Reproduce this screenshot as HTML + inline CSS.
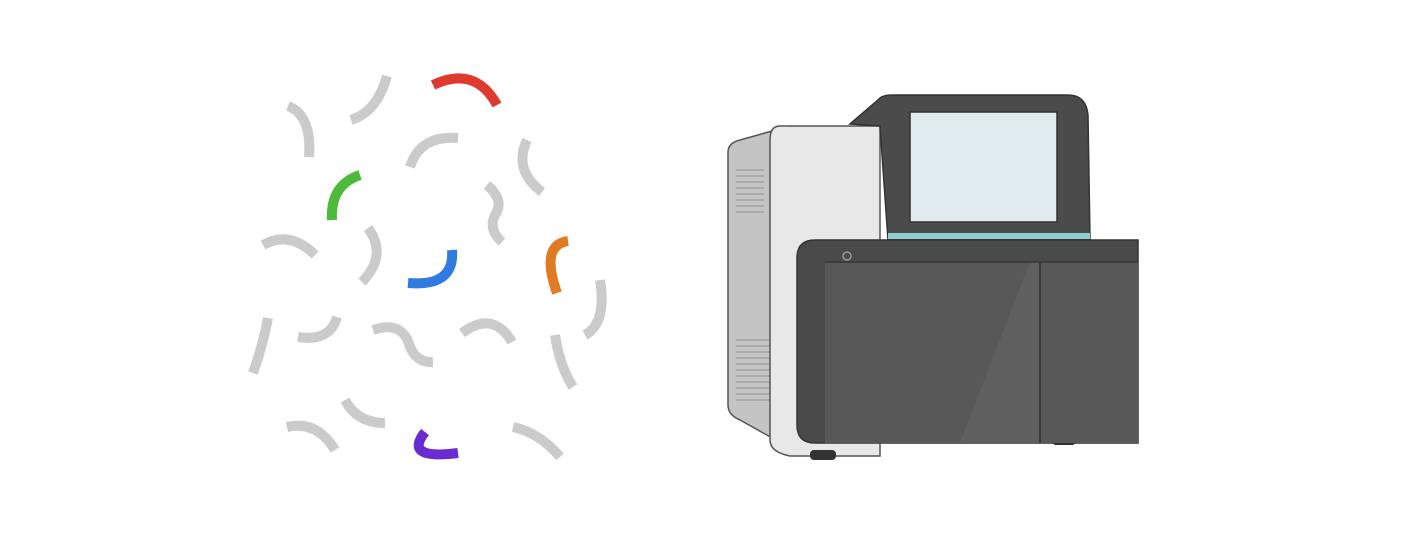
<!DOCTYPE html>
<html><head><meta charset="utf-8"><style>html,body{margin:0;padding:0;background:#fff}svg{display:block}</style></head>
<body>
<svg width="1428" height="543" viewBox="0 0 1428 543" xmlns="http://www.w3.org/2000/svg">
<rect width="1428" height="543" fill="#fff"/>
<g fill="none" stroke-width="10" stroke-linecap="butt">
<g stroke="#cbcbcb">
<path d="M288,106 Q312,115 309,157"/>
<path d="M387,76 Q377,112 351,120"/>
<path d="M410,167 Q420,135 458,138"/>
<path d="M527,140 Q513,170 542,192"/>
<path d="M487,185 Q505,200 495,215 Q488,230 502,242"/>
<path d="M263,245 Q290,230 315,255"/>
<path d="M368,228 Q388,255 362,282"/>
<path d="M600,280 Q607,323 585,335"/>
<path d="M268,318 Q263,345 253,373"/>
<path d="M337,317 Q330,342 298,337"/>
<path d="M373,330 Q403,320 410,347 Q417,363 433,362"/>
<path d="M462,333 Q493,310 512,342"/>
<path d="M555,335 Q560,367 573,387"/>
<path d="M345,400 Q357,423 385,423"/>
<path d="M287,427 Q317,420 335,450"/>
<path d="M513,427 Q540,433 560,457"/>
</g>
<path d="M433,85 Q475,65 497,105" stroke="#e03a2e"/>
<path d="M360,175 Q330,185 332,220" stroke="#4cbb3a"/>
<path d="M452,250 Q455,287 408,283" stroke="#2f7be0"/>
<path d="M568,241 Q540,245 557,293" stroke="#e07b24"/>
<path d="M425,432 Q403,460 458,453" stroke="#6a2bd0"/>
</g>
<!-- machine -->
<path d="M740,140 L790,126 L790,448 L740,420 Q728,415 728,405 L728,152 Q728,143 740,140 Z" fill="#c4c4c4" stroke="#555" stroke-width="1.5"/>
<g stroke="#9a9a9a" stroke-width="1.2">
<path d="M736,170 H764 M736,176 H764 M736,182 H764 M736,188 H764 M736,194 H764 M736,200 H764 M736,206 H764 M736,212 H764"/>
<path d="M736,340 H772 M736,346 H772 M736,352 H772 M736,358 H772 M736,364 H772 M736,370 H772 M736,376 H772 M736,382 H772 M736,388 H772 M736,394 H772 M736,400 H772"/>
</g>
<path d="M780,126 Q770,126 770,140 L770,440 Q770,452 790,456 L880,456 L880,126 Z" fill="#e8e8e8" stroke="#555" stroke-width="1.5"/>
<rect x="810" y="450" width="26" height="10" rx="4" fill="#333"/>
<rect x="1052" y="436" width="24" height="9" rx="4" fill="#333"/>
<path d="M850,124 L878,100 Q882,95 892,95 L1068,95 Q1086,95 1088,115 L1090,240 L888,240 L880,126 Z" fill="#4b4b4b" stroke="#333" stroke-width="1.5"/>
<rect x="910" y="112" width="147" height="110" fill="#dfeaef" stroke="#333" stroke-width="1.5"/>
<rect x="888" y="233" width="202" height="6" fill="#8fcfcf"/>
<path d="M815,240 L1138,240 L1138,443 L815,443 Q797,443 797,425 L797,258 Q797,240 815,240 Z" fill="#4a4a4a" stroke="#333" stroke-width="1.5"/>
<rect x="825" y="262" width="313" height="181" fill="#585858"/>
<path d="M960,443 L1030,262 L1040,262 L1040,443 Z" fill="#5f5f5f"/>
<line x1="1040" y1="262" x2="1040" y2="443" stroke="#3a3a3a" stroke-width="2"/>
<line x1="825" y1="262" x2="1138" y2="262" stroke="#3c3c3c" stroke-width="2"/>
<circle cx="847" cy="256" r="4" fill="none" stroke="#999" stroke-width="1.5"/>
</svg>
</body></html>
